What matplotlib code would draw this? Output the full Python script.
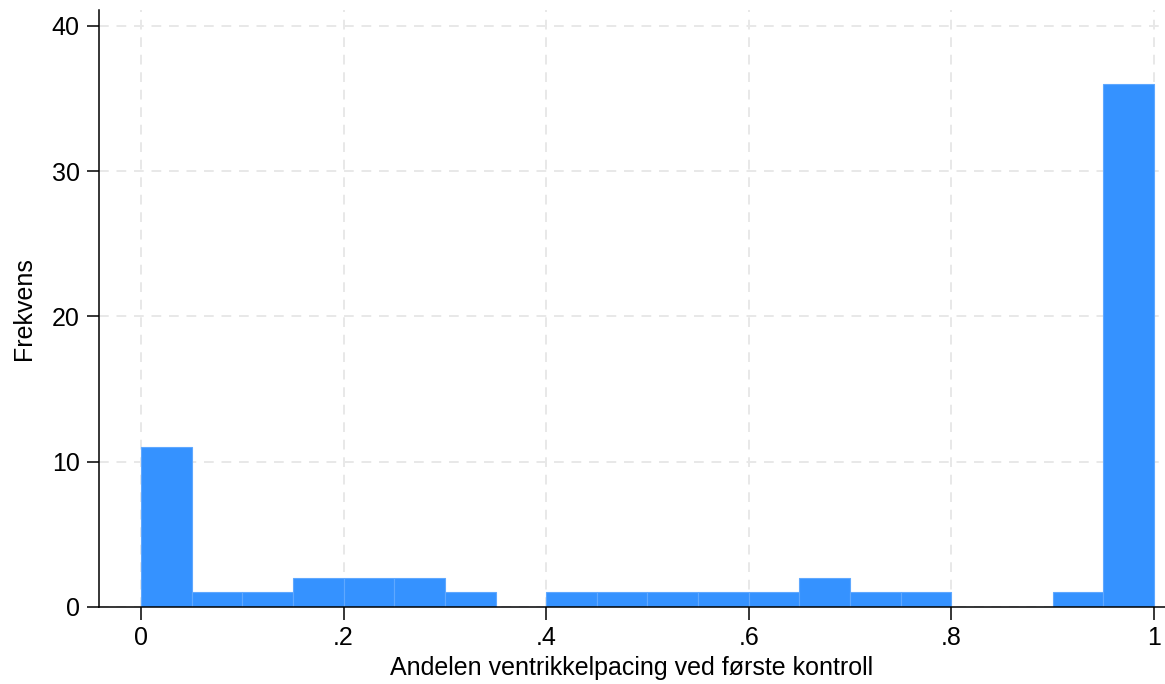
import numpy as np
import matplotlib
matplotlib.use('Agg')
import matplotlib.pyplot as plt

plt.rcParams['font.family'] = ['Liberation Sans', 'DejaVu Sans']

# histogram bins of width .05 on [0, 1] and the count in each
bin_edges = np.round(np.arange(0, 1.0001, 0.05), 2)
counts = [11, 1, 1, 2, 2, 2, 1, 0, 1, 1, 1, 1, 1, 2, 1, 1, 0, 0, 1, 36]

x_ticks = [0, 0.2, 0.4, 0.6, 0.8, 1]
x_labels = ['0', '.2', '.4', '.6', '.8', '1']
y_ticks = [0, 10, 20, 30, 40]

fig = plt.figure(figsize=(11.65, 6.84), dpi=100)
ax = fig.add_axes([0.085, 0.1126, 0.915, 0.8728])

ax.bar(bin_edges[:-1], counts, width=0.05, align='edge',
       color='#3592ff', edgecolor='#5fa8ff', linewidth=0.8, zorder=3)

ax.set_xlim(-0.0415, 1.011)
ax.set_ylim(0, 41.1)
ax.set_xticks(x_ticks)
ax.set_xticklabels(x_labels)
ax.set_yticks(y_ticks)

ax.grid(True, color='#e8e8e8', linestyle=(0, (5, 4)), linewidth=1.4, zorder=0)
for side in ['top', 'right']:
    ax.spines[side].set_visible(False)
for side in ['left', 'bottom']:
    ax.spines[side].set_linewidth(1.1)
    ax.spines[side].set_zorder(4)

ax.tick_params(axis='both', direction='out', length=9, width=1.1,
               labelsize=18, pad=5)
ax.set_xlabel('Andelen ventrikkelpacing ved første kontroll', fontsize=18, labelpad=4)
ax.set_ylabel('Frekvens', fontsize=18, labelpad=11)

fig.savefig('out.png', dpi=100)
